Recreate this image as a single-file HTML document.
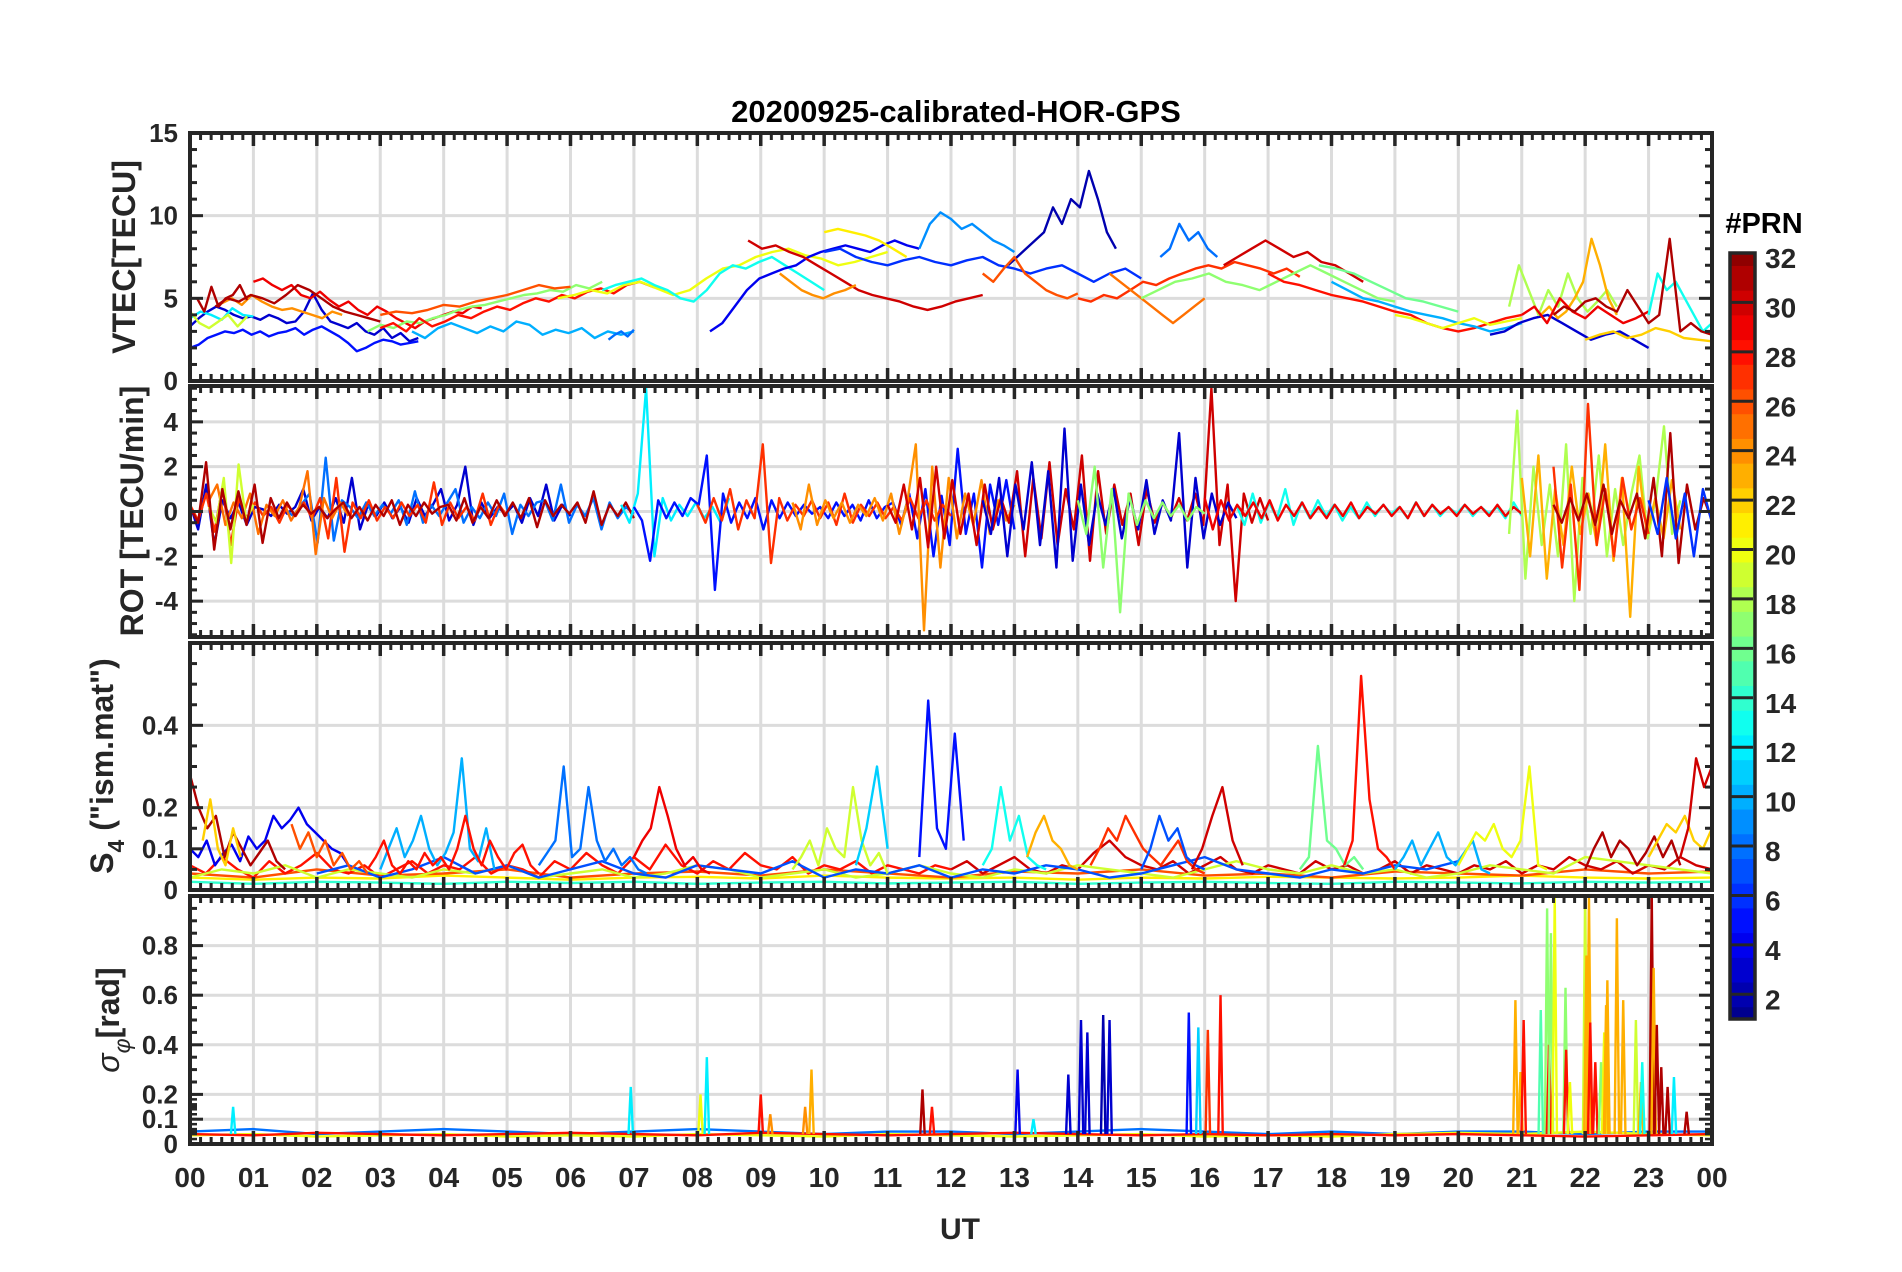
<!DOCTYPE html>
<html><head><meta charset="utf-8">
<style>
html,body{margin:0;padding:0;background:#fff;}
svg{display:block;font-family:"Liberation Sans",Arial,sans-serif;}
</style></head>
<body>
<svg id="fig" width="1902" height="1272" viewBox="0 0 1902 1272" xmlns="http://www.w3.org/2000/svg">
<rect width="1902" height="1272" fill="#fff"/>
<text x="956" y="122" text-anchor="middle" font-size="31" font-weight="bold" fill="#000">20200925-calibrated-HOR-GPS</text>
<g id="panels"></g>
<text x="960" y="1239" text-anchor="middle" font-size="30" font-weight="bold" fill="#262626">UT</text>
<text transform="translate(135,257) rotate(-90)" text-anchor="middle" font-size="32" font-weight="bold" fill="#262626">VTEC[TECU]</text>
<text transform="translate(143,511) rotate(-90)" text-anchor="middle" font-size="32" font-weight="bold" fill="#262626">ROT [TECU/min]</text>
<text transform="translate(113,766) rotate(-90)" text-anchor="middle" font-size="32" font-weight="bold" fill="#262626">S<tspan font-size="23" dy="11">4</tspan><tspan dy="-11"> ("ism.mat")</tspan></text>
<text transform="translate(119,1020) rotate(-90)" text-anchor="middle" font-size="32" font-weight="bold" fill="#262626"><tspan font-weight="normal" font-style="italic">σ</tspan><tspan font-size="23" font-weight="normal" font-style="italic" dy="11">φ</tspan><tspan dy="-11">[rad]</tspan></text>
<g id="cbar"></g>
<text x="1764" y="233" text-anchor="middle" font-size="29" font-weight="bold" fill="#000">#PRN</text>
</svg>
<script>
// ---------- DATA ----------
const hourTickLabels = ["00","01","02","03","04","05","06","07","08","09","10","11","12","13","14","15","16","17","18","19","20","21","22","23","00"];
const cbarTickValues = [2,4,6,8,10,12,14,16,18,20,22,24,26,28,30,32];
const vtecTicks = [0,5,10,15];
const rotTicks = [-4,-2,0,2,4];
const s4Ticks = [0,0.1,0.2,0.4];
const sigTicks = [0,0.1,0.2,0.4,0.6,0.8];

const vtecTraces = [
{prn:5,t0:0,t1:3.6,v:[2.0,2.2,2.6,2.8,3.0,2.9,3.1,2.8,3.0,2.7,2.9,3.0,3.2,2.8,3.1,3.3,3.0,2.7,2.3,1.8,2.0,2.3,2.5,2.4,2.2,2.3,2.4]},
{prn:3,t0:0,t1:3.6,v:[3.3,3.8,4.2,4.5,4.3,4.0,3.8,3.9,3.7,4.0,3.8,3.5,3.6,4.2,5.3,4.3,3.6,3.4,3.2,3.5,3.0,2.8,3.2,2.6,2.9,2.4,2.6]},
{prn:12,t0:0,t1:1,v:[3.8,4.2,4.0,3.7,4.4,4.0,3.9]},
{prn:19,t0:0,t1:0.9,v:[4.2,3.5,3.2,3.6,4.0,3.3,3.9]},
{prn:24,t0:0.5,t1:2.4,v:[4.7,5.0,4.6,5.2,4.8,4.5,4.3,4.4,4.2,4.0,3.8,4.2,4.0]},
{prn:29,t0:1.0,t1:4.6,v:[6.0,6.2,5.8,5.5,5.8,5.2,5.0,5.4,4.9,4.5,4.8,4.3,4.0,4.5,4.2,3.8,3.5,3.2,3.6,3.8,4.0,4.2,4.1,4.5,4.4]},
{prn:31,t0:0.4,t1:3.0,v:[4.5,5.0,4.8,5.2,5.0,4.7,5.2,5.8,5.5,5.0,4.5,4.2,4.0,3.8,3.6]},
{prn:31,t0:0,t1:0.9,v:[5.0,5.0,4.2,5.7,4.5,5.0,5.2,5.8,4.9]},
{prn:10,t0:3.5,t1:7,v:[3.0,2.6,3.2,3.5,3.2,2.9,3.3,3.0,3.6,3.4,2.8,3.1,2.9,3.2,2.6,3.0,2.8,3.0]},
{prn:17,t0:2.8,t1:6.5,v:[3.0,3.4,3.2,3.6,3.5,3.8,4.0,4.3,4.5,4.6,4.8,5.0,5.2,5.3,5.5,5.4,5.8,5.6,6.0]},
{prn:26,t0:3,t1:6,v:[4.0,4.2,4.1,4.3,4.6,4.5,4.8,5.0,5.2,5.5,5.8,5.6,5.7]},
{prn:28,t0:3,t1:7.5,v:[3.2,3.5,3.0,3.8,3.3,3.6,4.0,3.8,4.2,4.5,4.3,4.7,5.0,4.8,5.2,5.0,5.4,5.6,5.3,5.8,6.0,5.7,5.5]},
{prn:8,t0:6.6,t1:7.0,v:[2.5,2.8,3.0,2.7,3.1]},
{prn:20,t0:5.8,t1:11,v:[5.0,5.2,5.5,5.3,5.8,6.0,5.6,5.2,5.5,6.2,6.8,7.0,7.5,7.8,8.0,7.6,7.4,7.0,7.2,7.5,7.8]},
{prn:13,t0:6.5,t1:10,v:[5.5,5.8,6.0,6.2,5.8,5.5,5.0,4.8,5.5,6.5,7.0,6.8,7.2,7.5,7.0,6.5,6.0,5.5]},
{prn:4,t0:8.2,t1:11.5,v:[3.0,3.5,4.5,5.5,6.2,6.5,6.8,7.0,7.5,7.8,8.0,8.2,8.0,7.8,8.2,8.5,8.2,8.0]},
{prn:30,t0:8.8,t1:12.5,v:[8.5,8.0,8.2,7.8,7.5,7.0,6.5,6.0,5.5,5.2,5.0,4.8,4.5,4.3,4.5,4.8,5.0,5.2]},
{prn:24,t0:9.3,t1:10.5,v:[6.5,6.0,5.5,5.2,5.0,5.3,5.5,5.8]},
{prn:21,t0:10,t1:11.3,v:[9.0,9.2,9.0,8.8,8.5,8.0,7.5]},
{prn:9,t0:11.5,t1:13,v:[8.0,9.5,10.2,9.8,9.2,9.5,9.0,8.5,8.2,7.8]},
{prn:6,t0:10,t1:15,v:[7.8,8.0,7.5,7.2,7.0,7.3,7.5,7.2,7.0,7.3,7.5,7.0,6.8,6.5,6.8,7.0,6.5,6.0,6.5,6.8,6.2]},
{prn:2,t0:12.9,t1:14.6,v:[7.0,7.5,8.0,8.5,9.0,10.5,9.5,11.0,10.5,12.7,11.0,9.0,8.0]},
{prn:26,t0:12.5,t1:14,v:[6.5,6.0,6.8,7.5,6.5,6.0,5.5,5.2,5.0,5.3]},
{prn:27,t0:14,t1:17.5,v:[5.0,4.8,5.2,5.0,5.5,6.0,5.8,6.2,6.5,6.8,7.0,6.8,7.2,7.0,6.8,6.5,6.8,6.3]},
{prn:8,t0:15.3,t1:16.2,v:[7.5,8.0,9.5,8.5,9.0,8.0,7.5]},
{prn:25,t0:14.5,t1:16,v:[6.5,6.0,5.5,5.0,4.5,4.0,3.5,4.0,4.5,5.0]},
{prn:30,t0:16.3,t1:18.5,v:[7.0,7.5,8.0,8.5,8.0,7.5,7.8,7.2,7.0,6.5,6.0]},
{prn:17,t0:15,t1:19,v:[5.0,5.5,6.0,6.2,6.5,6.0,5.8,5.5,6.0,6.5,7.0,6.5,6.0,5.5,5.0,4.8]},
{prn:16,t0:17.8,t1:20,v:[7.0,6.8,6.5,6.0,5.5,5.0,4.8,4.5,4.2]},
{prn:28,t0:17,t1:21,v:[6.5,6.0,5.8,5.5,5.2,5.0,4.8,4.5,4.2,4.0,3.5,3.2,3.0,3.2,3.5,3.8,4.0]},
{prn:10,t0:18,t1:21,v:[6.0,5.5,5.0,4.8,4.5,4.2,4.0,3.8,3.5,3.3,3.0,3.2,3.5]},
{prn:20,t0:19,t1:21,v:[4.0,3.8,3.5,3.2,3.5,3.8,3.4,3.6,3.8]},
{prn:3,t0:20.5,t1:23,v:[2.8,3.0,3.5,3.8,4.0,3.5,3.0,2.5,2.8,3.0,2.5,2.0]},
{prn:22,t0:22,t1:24,v:[2.5,2.8,3.0,2.6,2.8,3.2,3.0,2.6,2.5,2.4]},
{prn:18,t0:20.8,t1:22.5,v:[4.5,7.0,5.5,4.0,5.5,4.5,6.5,5.0,4.2,4.8,5.5,4.5]},
{prn:23,t0:21.3,t1:22.5,v:[4.0,4.5,3.8,4.2,5.0,6.0,8.6,7.0,5.0,4.0]},
{prn:29,t0:21,t1:23,v:[4.0,4.5,3.5,5.0,4.2,3.8,4.5,4.0,3.5,3.8,4.2]},
{prn:13,t0:23,t1:24,v:[4.0,6.5,5.5,6.0,5.0,4.0,3.0,3.5]},
{prn:31,t0:21.5,t1:24,v:[4.0,4.5,4.2,4.8,5.0,4.5,4.2,5.5,4.5,3.5,4.0,8.6,3.0,3.5,3.0,2.8]}
];

const rotTraces = [
{prn:3,t0:0,t1:6,v:[0.3,-0.8,1.2,-1.5,0.5,-0.3,0.4,-0.6,0.2,0.1,-0.2,0.3,-0.1,0.2,1.0,-0.4,0.2,-0.3,0.6,-0.5,1.5,-0.8,0.3,-0.2,0.4,-0.3,0.2,-0.5,0.6,-0.2,0.3,1.0,-0.4,0.3,2.0,-0.6,0.4,-0.3,0.2,-0.1,0.3,-0.5,0.6,-0.2,1.2,-0.4,0.3,-0.2]},
{prn:8,t0:1.5,t1:7,v:[0.1,-0.2,0.3,0.8,-1.4,2.4,-1.3,0.5,0.2,-0.3,0.4,-0.2,0.3,-0.1,0.5,-0.6,0.9,-0.5,0.3,-0.2,0.4,1.0,-0.5,0.2,-0.3,0.4,-0.2,0.8,-1.0,0.3,-0.2,0.4,0.5,-0.4,1.2,-0.5,0.3,-0.2,0.6,-0.8,0.4,-0.3,0.2,-0.1]},
{prn:27,t0:0,t1:5,v:[0.3,-0.4,0.8,-0.9,1.1,-1.5,0.6,-0.3,0.4,-0.2,0.2,-0.5,0.3,-0.2,0.4,-0.3,0.6,-1.2,1.5,-1.8,0.4,-0.3,0.5,-0.4,0.2,-0.3,0.4,-0.2,0.3,-0.5,1.3,-0.6,0.4,-0.3,0.2,-0.4,0.8,-0.6,0.3,-0.2]},
{prn:25,t0:0.3,t1:2.5,v:[0.5,1.2,-0.6,0.4,-0.3,0.8,-1.0,0.3,-0.2,0.5,-0.4,0.2,1.8,-1.9,0.6,-0.3,0.4,-0.2]},
{prn:19,t0:0.3,t1:1,v:[0.2,-0.5,1.5,-2.3,2.1,-0.4,0.3]},
{prn:31,t0:0,t1:7,v:[0.2,-0.5,2.2,-1.7,1.0,-0.8,0.9,-0.6,1.2,-1.4,0.6,-0.3,0.4,-0.2,0.3,-0.1,0.2,-0.3,0.1,0.4,-0.3,0.2,-0.4,0.3,-0.2,0.5,-0.6,0.3,-0.2,0.4,-0.1,0.2,0.3,-0.4,0.6,-0.5,0.2,-0.3,0.5,-0.2,0.4,-0.3,0.6,-0.7,0.5,-0.2,0.3,-0.1,0.4,-0.5,0.9,-0.6,0.3,-0.2,0.4,-0.3]},
{prn:12,t0:6.8,t1:8.5,v:[0.3,-0.5,0.8,5.5,-2.0,0.6,-0.4,0.3,-0.2,0.4,-0.3,0.2,-0.5,0.6]},
{prn:5,t0:7,t1:13,v:[0.2,-0.4,-2.2,0.5,-0.3,0.4,-0.2,0.6,0.3,2.5,-3.5,0.8,-0.5,0.4,-0.3,0.6,-0.8,0.5,-0.3,0.4,-0.2,0.3,-0.1,0.2,-0.3,0.4,-0.2,0.3,-0.4,0.5,-0.3,0.2,0.4,-0.6,0.8,-1.2,1.0,-2.0,0.7,-1.5,2.8,-1.0,0.8,-2.5,1.2,-0.6,1.4,-0.8]},
{prn:27,t0:8,t1:12,v:[0.3,-0.5,0.6,-0.4,1.0,-0.8,0.5,-0.3,3.0,-2.3,0.6,-0.4,0.3,-0.2,0.5,-0.3,0.4,-0.6,0.8,-0.5,0.3,-0.2,0.4,-0.3,0.2,-0.4,0.6,-0.3,0.5,-0.4,0.3,-0.2]},
{prn:24,t0:9.5,t1:13,v:[0.4,-0.8,1.2,-0.6,0.5,-0.3,0.4,-0.5,0.3,-0.2,0.6,-0.4,0.8,-1.0,0.5,3.0,-5.3,2.0,-2.5,1.5,-1.2,0.8,-0.6,1.4,-1.0,0.5,-0.4,0.3]},
{prn:30,t0:11,t1:17,v:[0.3,-0.5,1.2,-0.8,1.5,-1.6,2.0,-1.2,1.4,-1.0,0.8,-1.5,1.2,-0.8,0.6,-0.5,1.8,-2.0,1.5,-1.2,2.2,-1.5,1.0,-0.8,2.5,-2.2,1.8,-1.0,1.2,-0.6,0.8,-1.5,1.0,-0.5,0.4,-0.3,0.6,-0.4,0.8,-0.6,5.5,-1.5,1.2,-4.0,0.8,-0.5,0.6,-0.4]},
{prn:3,t0:12.5,t1:16.5,v:[0.5,-1.0,1.5,-2.0,1.2,-0.8,2.2,-1.5,1.8,-2.5,3.7,-2.2,1.2,-1.5,0.8,-0.6,1.0,-1.2,0.6,-0.8,1.4,-1.0,0.5,-0.4,3.5,-2.5,1.5,-1.2,0.8,-0.6,0.4,-0.3]},
{prn:17,t0:14,t1:16,v:[0.5,-1.0,2.0,-2.5,1.0,-4.5,0.8,-0.6,0.5,-0.3,0.4,-0.2,0.3,-0.4,0.2,-0.1]},
{prn:13,t0:16.5,t1:21,v:[0.3,-0.6,0.8,-0.5,0.4,-0.3,1.0,-0.6,0.4,-0.3,0.5,-0.2,0.3,-0.4,0.2,-0.3,0.4,-0.2,0.3,-0.1,0.2,-0.3,0.4,-0.2,0.3,-0.2,0.2,-0.1,0.3,-0.2,0.2,-0.1,0.2,-0.3,0.4,-0.2]},
{prn:29,t0:16,t1:21,v:[0.6,-0.8,0.5,-0.4,0.3,-0.2,0.4,-0.3,0.5,-0.4,0.3,-0.2,0.4,-0.3,0.2,-0.3,0.3,-0.2,0.4,-0.3,0.2,-0.1,0.3,-0.2,0.2,-0.3,0.4,-0.2,0.3,-0.1,0.2,-0.2,0.3,-0.1,0.2,-0.2,0.3,-0.2,0.2,-0.1]},
{prn:18,t0:20.8,t1:23.5,v:[-1.0,4.5,-3.0,2.0,-1.5,1.2,-2.0,3.0,-4.0,1.5,-1.0,2.5,-2.0,1.0,-1.5,0.8,2.5,-1.2,0.6,3.8,-1.0,0.5]},
{prn:23,t0:21,t1:23.5,v:[1.5,-2.0,2.5,-3.0,1.0,-1.5,2.0,-1.0,0.8,-1.5,3.0,-2.2,1.5,-4.7,2.0,-1.0,0.6,-1.2,1.4,-0.8]},
{prn:27,t0:21.5,t1:23,v:[2.0,-2.5,1.2,-3.5,4.8,-1.5,1.0,-2.0,1.5,-0.8,0.6,-1.0]},
{prn:31,t0:21.5,t1:24,v:[0.3,-0.5,0.6,-0.4,0.8,-0.6,1.2,-1.0,0.5,-0.3,0.8,-1.2,1.5,-2.0,3.5,-2.3,1.2,-0.8,0.6,-0.4]},
{prn:6,t0:23,t1:24,v:[0.5,-1.0,1.5,-1.2,0.8,-2.0,1.0,-0.5]}
];

const s4Traces = [
{prn:14,t0:0,t1:24,v:[0.02,0.015,0.02,0.018,0.015,0.02,0.017,0.02,0.015,0.018,0.02,0.016,0.018,0.02,0.015,0.018,0.02,0.017,0.015,0.02,0.018,0.016,0.02,0.018,0.02]},
{prn:21,t0:0,t1:24,v:[0.03,0.025,0.03,0.028,0.035,0.03,0.025,0.03,0.032,0.028,0.035,0.03,0.028,0.03,0.025,0.03,0.028,0.032,0.03,0.028,0.03,0.035,0.03,0.028,0.03]},
{prn:26,t0:0,t1:24,v:[0.04,0.03,0.05,0.035,0.04,0.05,0.03,0.04,0.045,0.035,0.05,0.04,0.03,0.045,0.04,0.05,0.035,0.04,0.03,0.045,0.04,0.035,0.05,0.04,0.045]},
{prn:28,t0:0,t1:12,v:[0.06,0.04,0.08,0.05,0.03,0.07,0.04,0.06,0.09,0.05,0.04,0.06,0.03,0.05,0.07,0.04,0.06,0.05,0.08,0.04,0.06,0.05,0.03,0.07,0.05,0.09,0.06,0.04,0.08,0.05,0.11,0.06,0.04,0.07,0.05,0.09,0.06,0.05,0.08,0.04,0.06,0.05,0.07,0.04,0.06,0.05,0.04,0.06,0.05]},
{prn:30,t0:12,t1:24,v:[0.05,0.07,0.04,0.06,0.08,0.05,0.04,0.06,0.05,0.09,0.12,0.08,0.06,0.05,0.07,0.04,0.06,0.08,0.05,0.04,0.06,0.05,0.04,0.07,0.05,0.06,0.04,0.05,0.07,0.04,0.06,0.05,0.04,0.06,0.05,0.07,0.04,0.06,0.05,0.08,0.06,0.05,0.07,0.04,0.06,0.05,0.08,0.06,0.05]},
{prn:19,t0:0,t1:24,v:[0.03,0.05,0.04,0.06,0.03,0.05,0.04,0.03,0.05,0.04,0.06,0.03,0.04,0.05,0.03,0.04,0.06,0.05,0.03,0.04,0.05,0.03,0.04,0.06,0.04,0.03,0.05,0.04,0.06,0.05,0.04,0.03,0.05,0.07,0.05,0.04,0.06,0.04,0.05,0.03,0.04,0.06,0.05,0.04,0.08,0.07,0.06,0.05,0.04]},
{prn:7,t0:2,t1:20,v:[0.04,0.06,0.03,0.05,0.08,0.04,0.06,0.03,0.05,0.07,0.04,0.03,0.06,0.05,0.04,0.07,0.03,0.05,0.04,0.06,0.03,0.05,0.04,0.06,0.05,0.03,0.04,0.06,0.08,0.05,0.04,0.03,0.05,0.04,0.06,0.05,0.07]},
{prn:4,t0:0,t1:2.5,v:[0.10,0.08,0.12,0.06,0.09,0.11,0.07,0.13,0.10,0.12,0.18,0.15,0.17,0.20,0.16,0.14,0.12,0.10,0.09,0.06]},
{prn:31,t0:0,t1:1.5,v:[0.28,0.20,0.15,0.18,0.08,0.14,0.10,0.06,0.09,0.12,0.07,0.05]},
{prn:22,t0:0.2,t1:0.8,v:[0.12,0.22,0.10,0.06,0.15,0.08]},
{prn:26,t0:1.6,t1:2.8,v:[0.16,0.10,0.14,0.08,0.12,0.06,0.09,0.05,0.07,0.04]},
{prn:10,t0:3.0,t1:4.8,v:[0.05,0.10,0.15,0.08,0.12,0.18,0.10,0.06,0.09,0.14,0.32,0.10,0.07,0.15,0.05]},
{prn:28,t0:2.8,t1:5.5,v:[0.05,0.08,0.12,0.06,0.04,0.07,0.05,0.09,0.06,0.08,0.05,0.10,0.18,0.10,0.06,0.12,0.08,0.05,0.09,0.11,0.06,0.04]},
{prn:8,t0:5.5,t1:7.2,v:[0.06,0.09,0.12,0.30,0.08,0.10,0.25,0.12,0.07,0.10,0.06,0.08,0.05,0.04]},
{prn:29,t0:7.0,t1:8.2,v:[0.08,0.12,0.15,0.25,0.18,0.10,0.06,0.08,0.05,0.04]},
{prn:19,t0:9.5,t1:11,v:[0.05,0.08,0.12,0.06,0.15,0.10,0.08,0.25,0.12,0.06,0.09,0.04]},
{prn:11,t0:10.5,t1:11,v:[0.06,0.15,0.30,0.10]},
{prn:5,t0:11.5,t1:12.2,v:[0.08,0.46,0.15,0.10,0.38,0.12]},
{prn:13,t0:12.5,t1:13.5,v:[0.06,0.10,0.25,0.12,0.18,0.08,0.06,0.05]},
{prn:23,t0:13.2,t1:14,v:[0.08,0.14,0.18,0.12,0.10,0.06,0.05]},
{prn:27,t0:14.2,t1:16,v:[0.06,0.10,0.15,0.12,0.18,0.14,0.10,0.08,0.06,0.09,0.12,0.07,0.05,0.04]},
{prn:7,t0:15,t1:16,v:[0.05,0.10,0.18,0.12,0.15,0.08,0.06,0.05]},
{prn:30,t0:15.8,t1:16.6,v:[0.05,0.10,0.18,0.25,0.12,0.06]},
{prn:16,t0:17.5,t1:18.5,v:[0.05,0.08,0.35,0.12,0.10,0.06,0.08,0.05]},
{prn:28,t0:18.2,t1:19,v:[0.06,0.12,0.52,0.22,0.10,0.08,0.05]},
{prn:10,t0:19,t1:20.5,v:[0.05,0.08,0.12,0.06,0.10,0.14,0.08,0.06,0.09,0.12,0.05,0.04]},
{prn:20,t0:20,t1:21.4,v:[0.06,0.10,0.14,0.12,0.16,0.10,0.08,0.12,0.30,0.06,0.05]},
{prn:31,t0:22,t1:23.5,v:[0.05,0.10,0.14,0.08,0.12,0.10,0.06,0.09,0.13,0.08,0.12,0.06]},
{prn:22,t0:23,t1:24,v:[0.08,0.12,0.16,0.14,0.18,0.12,0.10,0.15]},
{prn:30,t0:23.5,t1:24,v:[0.08,0.15,0.32,0.25,0.30]}
];

const sigBaseTraces = [
{prn:8,t0:0,t1:24,v:[0.05,0.06,0.04,0.05,0.06,0.05,0.04,0.05,0.06,0.05,0.04,0.05,0.05,0.04,0.05,0.06,0.05,0.04,0.05,0.04,0.05,0.05,0.04,0.05,0.05]},
{prn:20,t0:0,t1:24,v:[0.035,0.04,0.03,0.035,0.04,0.03,0.035,0.03,0.04,0.035,0.03,0.04,0.035,0.03,0.035,0.04,0.03,0.035,0.03,0.04,0.045,0.04,0.05,0.04,0.035]},
{prn:28,t0:0,t1:24,v:[0.04,0.035,0.045,0.04,0.035,0.04,0.045,0.04,0.035,0.045,0.04,0.035,0.04,0.045,0.04,0.035,0.04,0.035,0.04,0.035,0.04,0.035,0.03,0.035,0.04]}
];
const sigSpikeTimes = [0.68,6.95,8.05,8.15,9.0,9.15,9.7,9.8,11.55,11.7,13.05,13.3,13.85,14.05,14.15,14.4,14.5,15.75,15.9,16.05,16.25,20.9,20.98,21.03,21.3,21.4,21.43,21.46,21.52,21.69,21.7,21.76,22.0,22.02,22.06,22.08,22.16,22.25,22.3,22.33,22.35,22.5,22.6,22.8,22.88,22.9,23.05,23.08,23.13,23.2,23.3,23.4,23.6];
const sigSpikeValues = [0.15,0.23,0.2,0.35,0.2,0.12,0.15,0.3,0.22,0.15,0.3,0.1,0.28,0.5,0.45,0.52,0.5,0.53,0.47,0.46,0.6,0.58,0.29,0.5,0.54,0.95,0.4,0.85,1.0,0.63,0.38,0.25,1.0,0.76,1.0,0.49,0.33,0.33,0.45,0.56,0.66,0.91,0.58,0.5,0.25,0.33,1.0,0.71,0.48,0.31,0.23,0.27,0.13];
const sigSpikePrns = [12,12,20,12,28,24,24,23,31,28,4,12,3,3,3,2,3,5,11,27,28,23,23,28,15,17,28,17,20,17,28,20,19,23,23,28,28,17,20,23,23,23,23,19,23,13,31,23,31,31,31,12,31];

// ---------- LAYOUT ----------
const X0=190, X1=1712;
const panels=[
 {name:'vtec',top:133,bot:381,ymin:0,ymax:15,ticks:vtecTicks,minor:1,labels:['0','5','10','15']},
 {name:'rot',top:386,bot:637,ymin:-5.6,ymax:5.6,ticks:rotTicks,minor:0.5,labels:['-4','-2','0','2','4']},
 {name:'s4',top:643,bot:890,ymin:0,ymax:0.6,ticks:s4Ticks,minor:0.05,labels:['0','0.1','0.2','0.4']},
 {name:'sigma-phi',top:896,bot:1144,ymin:0,ymax:1.0,ticks:sigTicks,minor:0.05,labels:['0','0.1','0.2','0.4','0.6','0.8']}
];
const NS='http://www.w3.org/2000/svg';
function xS(t){return X0+(t/24)*(X1-X0);}
function yS(p,v){return p.bot-(v-p.ymin)/(p.ymax-p.ymin)*(p.bot-p.top);}
function jet(prn){
  const x=(prn-0.5)/32;
  const c=a=>Math.max(0,Math.min(1,a));
  const r=c(1.5-Math.abs(4*x-3)),g=c(1.5-Math.abs(4*x-2)),b=c(1.5-Math.abs(4*x-1));
  return 'rgb('+Math.round(r*255)+','+Math.round(g*255)+','+Math.round(b*255)+')';
}
function mk(tag,attrs,parent){const e=document.createElementNS(NS,tag);for(const k in attrs)e.setAttribute(k,attrs[k]);parent.appendChild(e);return e;}
const root=document.getElementById('panels');
const INK='#262626';

function drawTraces(g,p,traces,nm){
  traces.forEach(tr=>{
    const n=tr.v.length;
    const pts=tr.v.map((v,i)=>{const t=tr.t0+(tr.t1-tr.t0)*(n>1?i/(n-1):0);return xS(t).toFixed(1)+','+Math.max(p.top,Math.min(p.bot,yS(p,v))).toFixed(1);}).join(' ');
    const pl=mk('polyline',{points:pts,fill:'none',stroke:jet(tr.prn),'stroke-width':2.4,'stroke-linejoin':'round'},g);
    
    
  });
}

panels.forEach((p,pi)=>{
  const g=mk('g',{},root);
  
  
  for(let h=1;h<24;h++){
    const l=mk('line',{x1:xS(h),x2:xS(h),y1:p.top,y2:p.bot,stroke:'#dcdcdc','stroke-width':3},g);
    
    
  }
  p.ticks.forEach(v=>{
    const l=mk('line',{x1:X0,x2:X1,y1:yS(p,v),y2:yS(p,v),stroke:'#dcdcdc','stroke-width':3},g);
    
    
  });
  const dg=mk('g',{'clip-path':'url(#clip'+pi+')'},g);
  const cp=mk('clipPath',{id:'clip'+pi},g);
  mk('rect',{x:X0,y:p.top,width:X1-X0,height:p.bot-p.top},cp);
  if(pi===0) drawTraces(dg,p,vtecTraces,'vtec-line');
  if(pi===1) drawTraces(dg,p,rotTraces,'rot-line');
  if(pi===2) drawTraces(dg,p,s4Traces,'s4-line');
  if(pi===3){
    drawTraces(dg,p,sigBaseTraces,'sigma-line');
    sigSpikeTimes.forEach((t,i)=>{
      const b=0.04;
      const pts=[xS(t-0.035)+','+yS(p,b),xS(t)+','+yS(p,sigSpikeValues[i]),xS(t+0.035)+','+yS(p,b)].join(' ');
      const pl=mk('polyline',{points:pts,fill:'none',stroke:jet(sigSpikePrns[i]),'stroke-width':2.4},dg);
      
      
    });
  }
  const tk=mk('g',{stroke:INK},g);
  for(let m=0;m<=24*6;m++){
    const x=xS(m/6), maj=(m%6===0), L=maj?13:7, w=maj?3.5:3;
    mk('line',{x1:x,x2:x,y1:p.top,y2:p.top+L,'stroke-width':w},tk);
    mk('line',{x1:x,x2:x,y1:p.bot,y2:p.bot-L,'stroke-width':w},tk);
  }
  for(let k=Math.ceil(p.ymin/p.minor);k*p.minor<=p.ymax+1e-9;k++){
    const v=k*p.minor; const y=yS(p,v);
    const maj=p.ticks.some(t=>Math.abs(t-v)<1e-6); const L=maj?13:7;
    mk('line',{x1:X0,x2:X0+L,y1:y,y2:y,'stroke-width':3},tk);
    mk('line',{x1:X1,x2:X1-L,y1:y,y2:y,'stroke-width':3},tk);
  }
  if(pi===3){for(let v=0.02;v<0.2;v+=0.02){const y=yS(p,v);mk('line',{x1:X0,x2:X0+7,y1:y,y2:y,'stroke-width':2.5},tk);mk('line',{x1:X1,x2:X1-7,y1:y,y2:y,'stroke-width':2.5},tk);}}
  const fr=mk('rect',{x:X0,y:p.top,width:X1-X0,height:p.bot-p.top,fill:'none',stroke:INK,'stroke-width':4},g);
  
  
  p.ticks.forEach((v,i)=>{
    const t=mk('text',{x:178,y:yS(p,v)+9,'text-anchor':'end','font-size':26,'font-weight':'bold',fill:INK},g);
    t.textContent=p.labels[i];
    
    
  });
});
hourTickLabels.forEach((s,i)=>{
  const t=mk('text',{x:xS(i),y:1187,'text-anchor':'middle','font-size':28,'font-weight':'bold',fill:INK},root);
  t.textContent=s;
  
  
});
// colorbar: values 1..32 map to bottom..top
const cb=document.getElementById('cbar');


const CBT=253,CBB=1019,CBX=1730,CBW=25;
const binH=(CBB-CBT)/31;
function cbY(v){return CBB-(v-1)*binH;}
for(let k=1;k<=32;k++){
  const y0=Math.max(CBT,cbY(k)-binH/2), y1=Math.min(CBB,cbY(k)+binH/2);
  const r=mk('rect',{x:CBX,y:y0,width:CBW,height:y1-y0+0.6,fill:jet(k)},cb);
  
  
}
mk('rect',{x:CBX,y:CBT,width:CBW,height:CBB-CBT,fill:'none',stroke:INK,'stroke-width':3.5},cb);
cbarTickValues.forEach(v=>{
  const ty=cbY(v);
  mk('line',{x1:CBX,x2:CBX+CBW-2,y1:ty,y2:ty,stroke:INK,'stroke-width':3},cb);
  const t=mk('text',{x:1765,y:ty+15,'font-size':28,'font-weight':'bold',fill:INK},cb);
  t.textContent=String(v);
  
  
});
</script>
</body></html>
